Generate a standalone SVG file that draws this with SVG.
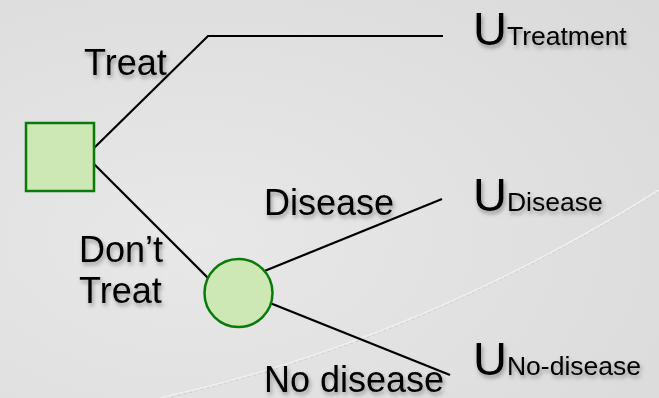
<svg xmlns="http://www.w3.org/2000/svg" width="659" height="398" viewBox="0 0 659 398">
<defs>
<radialGradient id="bg" cx="0.3" cy="0.6" r="0.9">
<stop offset="0" stop-color="#e8e8e8"/>
<stop offset="1" stop-color="#dadada"/>
</radialGradient>
<filter id="sh" x="-20%" y="-30%" width="140%" height="170%">
<feDropShadow dx="1.5" dy="3" stdDeviation="2" flood-color="#000" flood-opacity="0.35"/>
</filter>
</defs>
<style>
.lbl{font-family:"Liberation Sans",Arial,sans-serif;font-size:36px;fill:#000;filter:url(#sh)}
.u{font-family:"Liberation Sans",Arial,sans-serif;font-size:47px;fill:#000}
.sub{font-size:26.5px}
.edge{stroke:#000;stroke-width:2.2;fill:none}
.node{fill:#cde8b5;stroke:#0a7a0a;stroke-width:2.5}
</style>
<rect width="659" height="398" fill="url(#bg)"/>
<path d="M160 398 Q420 340 659 190" fill="none" stroke="#efefef" stroke-width="1.5"/>
<path d="M160 399.5 Q420 341.5 659 191.5" fill="none" stroke="#cdd0d0" stroke-width="1" stroke-dasharray="3 3"/>
<g id="connectors">
<polyline class="edge" points="94,148 208,36 443,36"/>
<line class="edge" x1="94" y1="164" x2="208" y2="278"/>
<line class="edge" x1="262" y1="272" x2="442" y2="199"/>
<line class="edge" x1="270" y1="303" x2="450" y2="375"/>
</g>
<g id="decision">
<rect class="node" x="26" y="123" width="68" height="68"/>
</g>
<g id="chance">
<circle class="node" cx="238.5" cy="293" r="34"/>
</g>
<g id="label-treat"><text class="lbl" x="84" y="75">Treat</text></g>
<g id="label-dont"><text class="lbl" x="79" y="262">Don’t</text><text class="lbl" x="79" y="303">Treat</text></g>
<g id="label-disease"><text class="lbl" x="264" y="215">Disease</text></g>
<g id="label-nodisease"><text class="lbl" x="264" y="392">No disease</text></g>
<g id="u-treatment"><text class="u" x="473" y="45" filter="url(#sh)">U<tspan class="sub">Treatment</tspan></text></g>
<g id="u-disease"><text class="u" x="473" y="211" filter="url(#sh)">U<tspan class="sub">Disease</tspan></text></g>
<g id="u-nodisease"><text class="u" x="473" y="375" filter="url(#sh)">U<tspan class="sub">No-disease</tspan></text></g>
</svg>
